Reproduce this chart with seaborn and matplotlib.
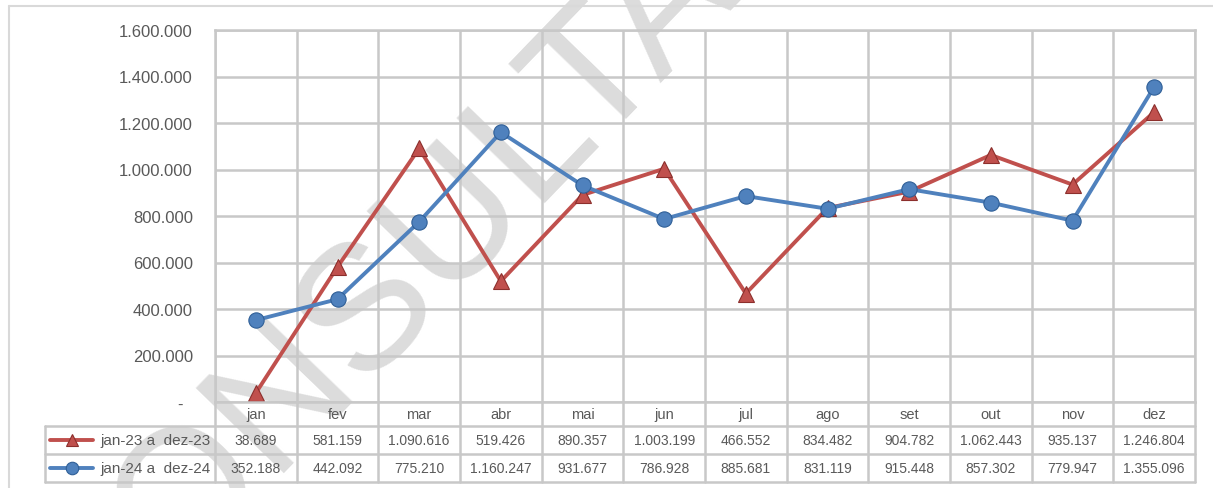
import numpy as np
import pandas as pd
import seaborn as sns
import matplotlib.pyplot as plt
from matplotlib.lines import Line2D

# dados do grafico
meses = ['jan', 'fev', 'mar', 'abr', 'mai', 'jun', 'jul', 'ago', 'set', 'out', 'nov', 'dez']
serie_23 = [38689, 581159, 1090616, 519426, 890357, 1003199, 466552, 834482, 904782, 1062443, 935137, 1246804]
serie_24 = [352188, 442092, 775210, 1160247, 931677, 786928, 885681, 831119, 915448, 857302, 779947, 1355096]
nomes = ['jan-23 a  dez-23', 'jan-24 a  dez-24']
y_ticks = [0, 200000, 400000, 600000, 800000, 1000000, 1200000, 1400000, 1600000]

vermelho = '#c0504d'
azul = '#4f81bd'
cinza_txt = '#595959'
cinza_grid = '#c8c8c8'


def br(v):
    # formato 1.234.567, zero vira "-"
    if v == 0:
        return '-  '
    return f'{v:,}'.replace(',', '.')


W, H = 1213, 489


def px(x0, y0, x1, y1):
    return [x0 / W, 1 - y1 / H, (x1 - x0) / W, (y1 - y0) / H]


sns.set_style('white')
plt.rcParams['font.family'] = ['Liberation Sans', 'DejaVu Sans']

fig = plt.figure(figsize=(W / 100, H / 100), dpi=100, facecolor='white')

# moldura externa
fig.add_artist(Line2D([9 / W, 9 / W], [0, 1 - 7 / H], color='#d9d9d9', lw=1.5))
fig.add_artist(Line2D([9 / W, 1], [1 - 7 / H, 1 - 7 / H], color='#d9d9d9', lw=1.5))

# marca d'agua
fig.text(380 / W, 1 - 298 / H, 'CONSULTA', rotation=46, fontsize=128, color='#dcdcdc',
         ha='center', va='center', rotation_mode='anchor', zorder=-1)

ax = fig.add_axes(px(215, 31, 1195, 403))
ax.patch.set_alpha(0)

df = pd.DataFrame({
    'pos': list(range(12)) * 2,
    'valor': serie_23 + serie_24,
    'serie': [nomes[0]] * 12 + [nomes[1]] * 12,
})
sns.lineplot(data=df, x='pos', y='valor', hue='serie', style='serie',
             markers=['^', 'o'], dashes=False, palette=[vermelho, azul],
             linewidth=2.8, markersize=11, ax=ax, legend=False)
for ln, ec in zip(ax.lines, ['#8c2f2c', '#2f5f97']):
    ln.set_markeredgecolor(ec)
    ln.set_markeredgewidth(0.8)

ax.set_xlim(-0.5, 11.5)
ax.set_ylim(0, 1600000)
ax.set_xticks(np.arange(-0.5, 12, 1))
ax.set_xticklabels([])
ax.set_yticks(y_ticks)
ax.set_yticklabels([br(v) for v in y_ticks], fontsize=12, color=cinza_txt)
ax.tick_params(length=0, pad=16)
ax.grid(True, color=cinza_grid, lw=1.8)
ax.set_axisbelow(True)
for s in ax.spines.values():
    s.set_color(cinza_grid)
    s.set_linewidth(1.8)
ax.set_xlabel('')
ax.set_ylabel('')

# tabela de dados embaixo
tb = fig.add_axes(px(45, 403, 1195, 483))
tb.patch.set_alpha(0)
col = 980 / 12
esq = -0.5 - 170 / col
tb.set_xlim(esq, 11.5)
tb.set_ylim(483, 403)
tb.axis('off')

linhas_y = [403, 427, 455, 483]
for y in linhas_y[1:]:
    tb.plot([esq, 11.5], [y, y], color=cinza_grid, lw=1.8, clip_on=False)
for i in range(13):
    tb.plot([i - 0.5, i - 0.5], [403, 483], color=cinza_grid, lw=1.8, clip_on=False)
tb.plot([esq, esq], [427, 483], color=cinza_grid, lw=1.8, clip_on=False)

for i, m in enumerate(meses):
    tb.text(i, 415, m, ha='center', va='center', fontsize=10.5, color=cinza_txt)

for r, (serie, cor, mk, ec) in enumerate(zip([serie_23, serie_24], [vermelho, azul], ['^', 'o'],
                                             ['#8c2f2c', '#2f5f97'])):
    yc = (linhas_y[r + 1] + linhas_y[r + 2]) / 2
    for i, v in enumerate(serie):
        tb.text(i, yc, br(v), ha='center', va='center', fontsize=10, color=cinza_txt)
    x0 = esq + 5 / col
    x1 = esq + 48 / col
    tb.plot([x0, x1], [yc, yc], color=cor, lw=2.8, clip_on=False)
    tb.plot([(x0 + x1) / 2], [yc], marker=mk, color=cor, ms=9, mec=ec, mew=0.8, clip_on=False)
    tb.text(esq + 55 / col, yc, nomes[r], ha='left', va='center', fontsize=11, color=cinza_txt)

fig.savefig('out.png', dpi=100, facecolor='white')
